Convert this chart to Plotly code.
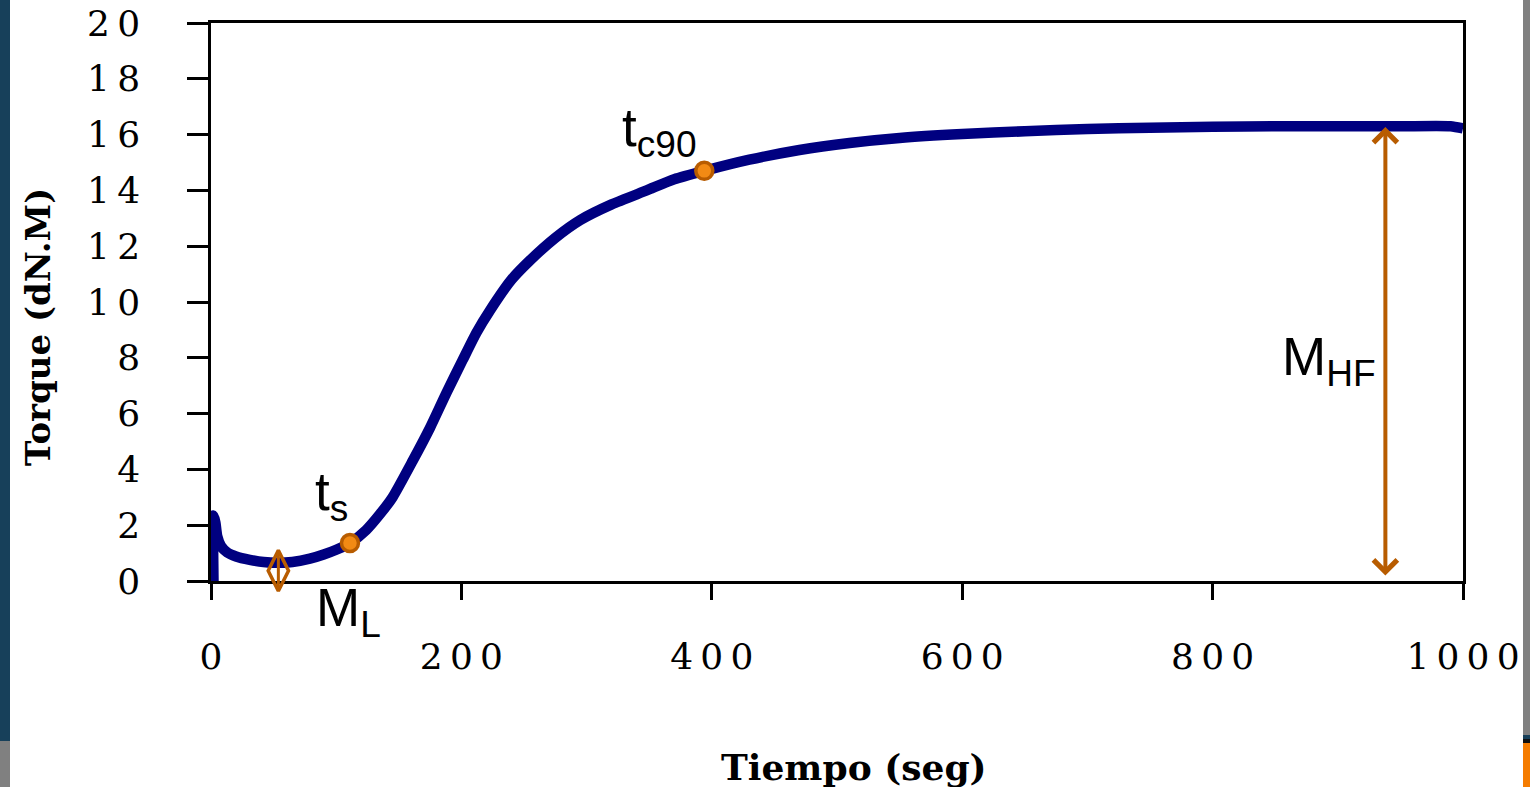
import plotly.graph_objects as go

# ---------------- data ----------------
time_s = [2, 2, 3.5, 5, 8, 13, 20, 31, 42, 53, 65, 79, 90, 100, 111, 124, 135, 145,
          161, 175, 188, 201, 212, 223, 240, 255, 275, 295, 320, 348, 370, 394, 430,
          470, 510, 550, 600, 650, 700, 750, 800, 850, 900, 950, 990, 1000]
torque = [0, 2.35, 2.1, 1.6, 1.25, 1.02, 0.88, 0.76, 0.68, 0.65, 0.68, 0.8, 0.95, 1.12,
          1.36, 1.83, 2.4, 3.0, 4.3, 5.5, 6.74, 7.92, 8.9, 9.71, 10.8, 11.5, 12.3, 12.94,
          13.5, 14.0, 14.4, 14.7, 15.1, 15.45, 15.7, 15.88, 16.02, 16.12, 16.2, 16.25,
          16.28, 16.3, 16.3, 16.3, 16.3, 16.22]

cure_pts_x = [111, 394]          # t_s, t_c90
cure_pts_y = [1.36, 14.7]
ml_x = [53.8]                    # M_L marker
ml_y = [0.37]
mhf_x = 938                      # M_HF double arrow
mhf_top = 16.27
mhf_bottom = 0.14

x_ticks = [0, 200, 400, 600, 800, 1000]
y_ticks = [0, 2, 4, 6, 8, 10, 12, 14, 16, 18, 20]
y_max = 20

THIN = "\u2009"
x_ticktext = [THIN.join(str(v)) for v in x_ticks]
y_ticktext = [THIN.join(str(v)) for v in y_ticks]

# ---------------- layout geometry ----------------
W, H = 1530, 787
L, R, T, B = 211, 1463, 23, 581   # plot area in pixels


def px_x(p):
    return (p - L) / (R - L)


def px_y(p):
    return (B - p) / (B - T)


NAVY = "#000080"
ORANGE = "#f28a14"
BROWN = "#b85c00"
SERIF = "DejaVu Serif"
SANS = "Liberation Sans"

fig = go.Figure()

fig.add_trace(go.Scatter(
    x=time_s, y=torque, mode="lines",
    line=dict(color=NAVY, width=10.5, shape="spline", smoothing=0.6),
    hoverinfo="skip", showlegend=False))

fig.add_trace(go.Scatter(
    x=cure_pts_x, y=cure_pts_y, mode="markers",
    marker=dict(symbol="circle", size=17, color=ORANGE, line=dict(color=BROWN, width=3.5)),
    showlegend=False, cliponaxis=False))

fig.add_trace(go.Scatter(
    x=ml_x, y=ml_y, mode="markers",
    marker=dict(symbol="diamond-tall-open", size=29, color=BROWN, line=dict(color=BROWN, width=3.5)),
    showlegend=False, cliponaxis=False))
fig.add_trace(go.Scatter(
    x=ml_x, y=ml_y, mode="markers",
    marker=dict(symbol="line-ns-open", size=29, color=BROWN, line=dict(color=BROWN, width=3)),
    showlegend=False, cliponaxis=False))

label_font = dict(family=SANS, size=53, color="black")
annotations = [
    # M_HF double-headed arrow
    dict(x=mhf_x, y=mhf_top, ax=mhf_x, ay=mhf_bottom, xref="x", yref="y", axref="x", ayref="y",
         text="", showarrow=True, arrowhead=4, startarrowhead=4, arrowside="end+start",
         arrowwidth=4, arrowsize=1.15, startarrowsize=1.15, arrowcolor=BROWN,
         standoff=0, startstandoff=0),
    dict(x=81.5, y=3.08, xref="x", yref="y", text="t<sub>s</sub>", showarrow=False,
         xanchor="left", yanchor="middle", font=label_font),
    dict(x=82, y=-1.11 / y_max, xref="x", yref="paper", text="M<sub>L</sub>", showarrow=False,
         xanchor="left", yanchor="middle", font=label_font),
    dict(x=326.7, y=16.1, xref="x", yref="y", text="t<sub>c90</sub>", showarrow=False,
         xanchor="left", yanchor="middle", font=label_font),
    dict(x=853.8, y=7.92, xref="x", yref="y", text="M<sub>HF</sub>", showarrow=False,
         xanchor="left", yanchor="middle", font=label_font),
    # axis titles
    dict(x=px_x(854), y=px_y(767), xref="paper", yref="paper", text="<b>Tiempo (seg)</b>",
         showarrow=False, xanchor="center", yanchor="middle",
         font=dict(family=SERIF, size=36, color="black")),
    dict(x=px_x(38), y=px_y(327), xref="paper", yref="paper", text="<b>Torque (dN.M)</b>",
         showarrow=False, xanchor="center", yanchor="middle", textangle=-90,
         font=dict(family=SERIF, size=34, color="black")),
]

# slide background fragments at the edges
shapes = []


def rect(x0, y0, x1, y1, color):
    shapes.append(dict(type="rect", xref="paper", yref="paper",
                       x0=px_x(x0), x1=px_x(x1), y0=px_y(y0), y1=px_y(y1),
                       fillcolor=color, line=dict(width=0), layer="above"))


rect(0, 0, 10, 741, "#17405a")
rect(0, 741, 10, 787, "#808080")
rect(1523, 0, 1530, 735, "#808080")
rect(1523, 735, 1530, 739, "#17405a")
rect(1523, 739, 1530, 743, "#111111")
rect(1523, 743, 1530, 787, "#f57c00")

axis_common = dict(showgrid=False, zeroline=False, showline=True, linecolor="black",
                   linewidth=2.5, mirror=True, ticks="outside", tickcolor="black",
                   tickwidth=2.5, layer="below traces", automargin=False,
                   tickfont=dict(family=SERIF, size=36, color="black"))

fig.update_layout(
    template="none",
    width=W, height=H,
    margin=dict(l=L, r=W - R, t=T, b=H - B, pad=0, autoexpand=False),
    paper_bgcolor="white", plot_bgcolor="white",
    xaxis=dict(range=[0, 1000], tickvals=x_ticks, ticktext=x_ticktext, ticklen=16,
               ticklabelstandoff=26, **axis_common),
    yaxis=dict(range=[0, y_max], tickvals=y_ticks, ticktext=y_ticktext, ticklen=21,
               ticklabelstandoff=40, **axis_common),
    annotations=annotations, shapes=shapes, showlegend=False,
)

fig.write_html("out.html", config={"displayModeBar": False},
               post_script="document.body.style.margin='0px';")
